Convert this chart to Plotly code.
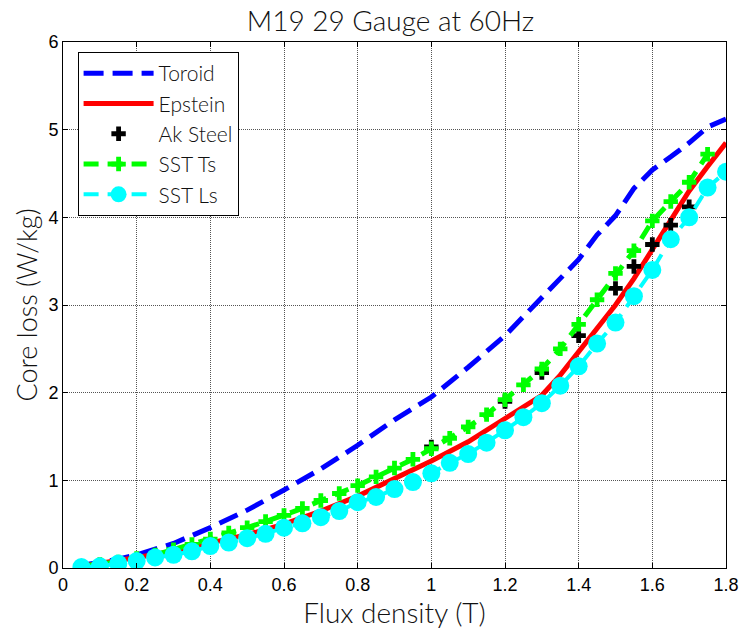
import plotly.graph_objects as go

# ---- data ----
toroid_x = [0.05, 0.1, 0.15, 0.2, 0.3, 0.4, 0.5, 0.6, 0.7, 0.8, 0.9, 1.0, 1.1, 1.2, 1.3, 1.35, 1.4, 1.45, 1.5, 1.55, 1.6, 1.65, 1.7, 1.75, 1.8]
toroid_y = [0.03, 0.06, 0.10, 0.15, 0.28, 0.46, 0.66, 0.89, 1.13, 1.40, 1.69, 1.95, 2.29, 2.65, 3.08, 3.29, 3.52, 3.80, 4.02, 4.33, 4.54, 4.69, 4.85, 5.03, 5.12]

epstein_x = [0.05, 0.1, 0.2, 0.3, 0.4, 0.5, 0.6, 0.7, 0.8, 0.9, 1.0, 1.1, 1.2, 1.25, 1.3, 1.35, 1.4, 1.45, 1.5, 1.55, 1.6, 1.65, 1.7, 1.75, 1.8]
epstein_y = [0.02, 0.05, 0.12, 0.19, 0.28, 0.38, 0.50, 0.65, 0.82, 1.02, 1.22, 1.44, 1.70, 1.83, 1.97, 2.20, 2.47, 2.73, 3.00, 3.30, 3.63, 3.97, 4.30, 4.58, 4.85]

ak_x = [1.0, 1.2, 1.3, 1.4, 1.5, 1.55, 1.6, 1.65, 1.7]
ak_y = [1.38, 1.90, 2.23, 2.65, 3.19, 3.44, 3.69, 3.91, 4.12]

sst_ts_x = [0.05, 0.1, 0.15, 0.2, 0.25, 0.3, 0.35, 0.4, 0.45, 0.5, 0.55, 0.6, 0.65, 0.7, 0.75, 0.8, 0.85, 0.9,
            0.95, 1.0, 1.05, 1.1, 1.15, 1.2, 1.25, 1.3, 1.35, 1.4, 1.45, 1.5, 1.55, 1.6, 1.65, 1.7, 1.75]
sst_ts_y = [0.02, 0.04, 0.07, 0.11, 0.15, 0.21, 0.27, 0.33, 0.40, 0.46, 0.53, 0.60, 0.68, 0.77, 0.85, 0.94, 1.04, 1.14,
            1.24, 1.36, 1.48, 1.61, 1.75, 1.92, 2.09, 2.27, 2.50, 2.78, 3.06, 3.36, 3.62, 3.96, 4.18, 4.40, 4.72]

sst_ls_x = [0.05, 0.1, 0.15, 0.2, 0.25, 0.3, 0.35, 0.4, 0.45, 0.5, 0.55, 0.6, 0.65, 0.7, 0.75, 0.8, 0.85, 0.9,
            0.95, 1.0, 1.05, 1.1, 1.15, 1.2, 1.25, 1.3, 1.35, 1.4, 1.45, 1.5, 1.55, 1.6, 1.65, 1.7, 1.75, 1.8]
sst_ls_y = [0.01, 0.02, 0.05, 0.08, 0.12, 0.15, 0.19, 0.25, 0.29, 0.34, 0.39, 0.46, 0.51, 0.58, 0.65, 0.75, 0.81, 0.90,
            0.98, 1.08, 1.20, 1.30, 1.43, 1.57, 1.72, 1.88, 2.08, 2.30, 2.56, 2.80, 3.10, 3.40, 3.75, 4.00, 4.34, 4.52]

x_ticks = [0, 0.2, 0.4, 0.6, 0.8, 1.0, 1.2, 1.4, 1.6, 1.8]
x_tick_labels = ["0", "0.2", "0.4", "0.6", "0.8", "1", "1.2", "1.4", "1.6", "1.8"]
y_ticks = [0, 1, 2, 3, 4, 5, 6]

TEXT_FONT = "Lato"
TEXT_COLOR = "#111111"

fig = go.Figure()
fig.add_trace(go.Scatter(x=toroid_x, y=toroid_y, mode="lines", name="Toroid",
                         line=dict(color="#0000ff", width=5, dash="20px,9px")))
fig.add_trace(go.Scatter(x=epstein_x, y=epstein_y, mode="lines", name="Epstein",
                         line=dict(color="#ff0000", width=5)))
fig.add_trace(go.Scatter(x=ak_x, y=ak_y, mode="markers", name="Ak Steel",
                         marker=dict(symbol="cross", color="#000000", size=12)))
fig.add_trace(go.Scatter(x=sst_ts_x, y=sst_ts_y, mode="lines+markers", name="SST Ts",
                         line=dict(color="#00ff00", width=5, dash="15px,9px"),
                         marker=dict(symbol="cross", color="#00ff00", size=12)))
fig.add_trace(go.Scatter(x=sst_ls_x, y=sst_ls_y, mode="lines+markers", name="SST Ls",
                         line=dict(color="#00ffff", width=4, dash="15px,9px"),
                         marker=dict(symbol="circle", color="#00ffff", size=18)))

axis_common = dict(showline=True, linecolor="black", linewidth=1, mirror="ticks",
                   ticks="inside", ticklen=5, tickcolor="black",
                   showgrid=True, gridcolor="#555555", griddash="1px,1px", gridwidth=1,
                   zeroline=False,
                   tickfont=dict(family="Liberation Sans", size=18, color="black"))

fig.update_layout(
    width=751, height=632,
    margin=dict(l=63, r=14, t=42, b=64),
    paper_bgcolor="white", plot_bgcolor="white",
    title=dict(text="M19 29 Gauge at 60Hz", x=0.52, xanchor="center", y=0.966, yanchor="middle",
               font=dict(family=TEXT_FONT, size=28, color=TEXT_COLOR, weight=300)),
    xaxis=dict(range=[0, 1.8], tickvals=x_ticks, ticktext=x_tick_labels,
               title=dict(text="Flux density (T)", font=dict(family=TEXT_FONT, size=28, color=TEXT_COLOR, weight=300),
                          standoff=0),
               **axis_common),
    yaxis=dict(range=[0, 6], tickvals=y_ticks,
               title=dict(text="Core loss (W/kg)", font=dict(family=TEXT_FONT, size=27, color=TEXT_COLOR, weight=300),
                          standoff=2),
               **axis_common),
    legend=dict(x=0.022, y=0.981, xanchor="left", yanchor="top",
                bgcolor="white", bordercolor="black", borderwidth=1,
                font=dict(family=TEXT_FONT, size=21, color=TEXT_COLOR, weight=300),
                tracegroupgap=0, itemwidth=70),
    showlegend=True,
)

fig.write_html("out.html")
